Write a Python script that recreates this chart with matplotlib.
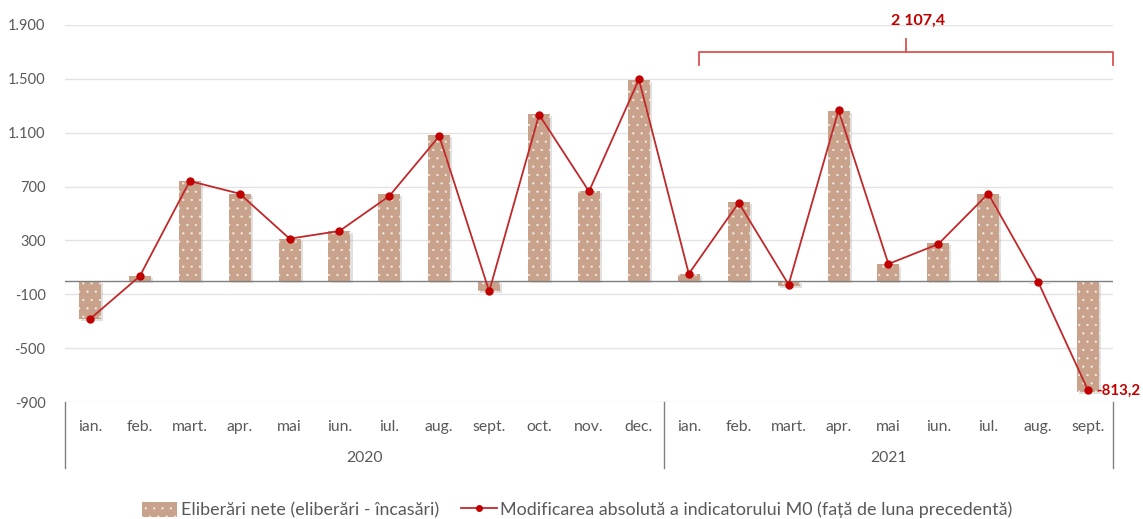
import matplotlib
matplotlib.use('Agg')
import matplotlib.pyplot as plt
from matplotlib.patches import Patch
from matplotlib.lines import Line2D
from matplotlib.ticker import FuncFormatter, FixedLocator
import matplotlib.transforms as mtransforms
import matplotlib.patheffects as pe

months = ['ian.', 'feb.', 'mart.', 'apr.', 'mai', 'iun.', 'iul.', 'aug.', 'sept.', 'oct.', 'nov.', 'dec.',
          'ian.', 'feb.', 'mart.', 'apr.', 'mai', 'iun.', 'iul.', 'aug.', 'sept.']
years = ['2020', '2021']
year_counts = [12, 9]
net_issues = [-285, 35, 745, 647, 312, 372, 647, 1080, -75, 1241, 667, 1494,
              50, 588, -38, 1261, 128, 278, 647, -10, -828]
m0_change = [-284, 35, 741, 647, 313, 370, 630, 1075, -78, 1234, 664, 1496,
             52, 580, -28, 1266, 125, 273, 647, -8, -813.2]
yticks = [-900, -500, -100, 300, 700, 1100, 1500, 1900]
total_2021_label = '2 107,4'
last_label = '-813,2'
bar_name = 'Eliberări nete (eliberări - încasări)'
line_name = 'Modificarea absolută a indicatorului M0 (față de luna precedentă)'

plt.rcParams['font.family'] = ['Lato', 'DejaVu Sans']
plt.rcParams['hatch.linewidth'] = 0.4

BAR = '#C8A28B'
LINE = '#C0282A'
MARK = '#C00000'
GRAY = '#595959'
GRID = '#E3E3E3'

W, H = 1143, 519
fig = plt.figure(figsize=(W / 100, H / 100), dpi=100)
L, R, T, B = 65, 1113, 25, 402
ax = fig.add_axes([L / W, 1 - B / H, (R - L) / W, (B - T) / H])

x = list(range(len(months)))
bars = ax.bar(x, net_issues, width=0.44, color=BAR, edgecolor='#F4ECE6', linewidth=0,
              hatch='..', zorder=2)
for b in bars:
    b.set_path_effects([pe.SimplePatchShadow(offset=(1.5, -1.5), shadow_rgbFace='#9A9A9A', alpha=0.3),
                        pe.Normal()])
ax.plot(x, m0_change, color=LINE, lw=1.3, marker='o', markersize=5,
        markerfacecolor=MARK, markeredgecolor=MARK, zorder=4)

ax.set_xlim(-0.5, len(months) - 0.5)
ax.set_ylim(yticks[0], yticks[-1])
ax.yaxis.set_major_locator(FixedLocator(yticks))
ax.yaxis.set_major_formatter(FuncFormatter(lambda v, p: f"{int(v):,}".replace(',', '.')))
ax.grid(axis='y', color=GRID, lw=1, zorder=0)
ax.set_axisbelow(True)
for s in ax.spines.values():
    s.set_visible(False)
ax.tick_params(axis='y', length=0, pad=14, labelsize=10.5, labelcolor=GRAY)
ax.tick_params(axis='x', length=0, labelbottom=False)
ax.axhline(0, color='#7F7F7F', lw=1, zorder=3)

# category labels
trans = mtransforms.blended_transform_factory(ax.transData, ax.transAxes)
ax_h = B - T
for i, m in enumerate(months):
    ax.text(i, -(427 - B) / ax_h, m, transform=trans, ha='center', va='center',
            fontsize=11.3, color=GRAY)
start = 0
seps = [-0.5]
for yname, cnt in zip(years, year_counts):
    mid = start + (cnt - 1) / 2
    ax.text(mid, -(458 - B) / ax_h, yname, transform=trans, ha='center', va='center',
            fontsize=11.3, color=GRAY)
    start += cnt
    seps.append(start - 0.5)
for sx in seps:
    ax.add_line(Line2D([sx, sx], [0, -(468 - B) / ax_h], transform=trans,
                       color='#808080', lw=1, clip_on=False))

# bracket over 2021
bx0, bx1 = 12.2, 20.5
bc = (bx0 + bx1) / 2
BRK = '#D9534F'
ax.plot([bx0, bx0, bx1, bx1], [1600, 1696, 1696, 1600], color=BRK, lw=1.3,
        clip_on=False, zorder=5)
ax.plot([bc, bc], [1696, 1797], color=BRK, lw=1.3, clip_on=False, zorder=5)
ax.text(bc + 0.25, 1934, total_2021_label, ha='center', va='center', fontsize=11.5,
        fontweight='bold', color=MARK, clip_on=False)

ax.annotate(last_label, xy=(x[-1], m0_change[-1]), xytext=(8, 0),
            textcoords='offset pixels', ha='left', va='center', fontsize=10.8,
            fontweight='bold', color=MARK, annotation_clip=False)

handles = [Patch(facecolor=BAR, edgecolor='#F4ECE6', linewidth=0, hatch='..'),
           Line2D([], [], color=LINE, lw=1.3, marker='o', markersize=4,
                  markerfacecolor=MARK, markeredgecolor=MARK)]
fig.legend(handles, [bar_name, line_name], loc='center', bbox_to_anchor=(577 / W, 1 - 510 / H),
           ncol=2, frameon=False, fontsize=12.9, labelcolor=GRAY, handlelength=2.0,
           handletextpad=0.2, columnspacing=1.2, handleheight=0.9)

fig.savefig('out.png', dpi=100)
